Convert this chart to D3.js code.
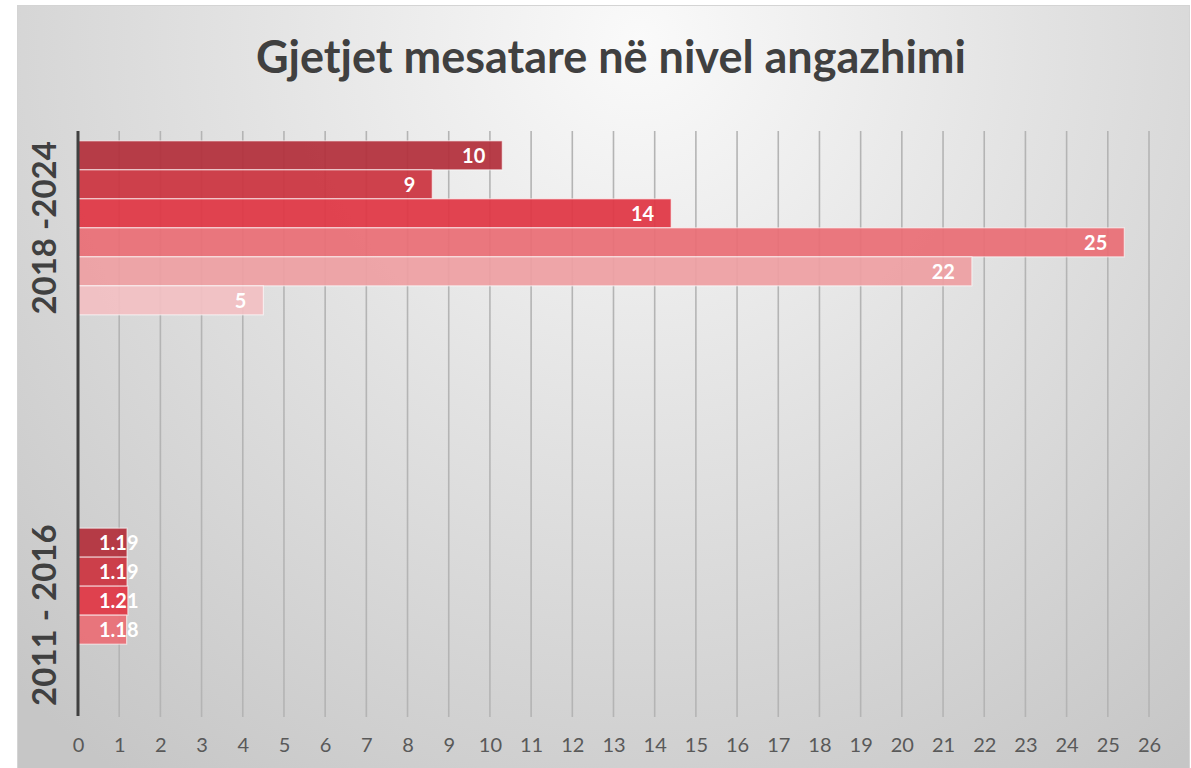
<!DOCTYPE html>
<html><head><meta charset="utf-8">
<script src="https://cdn.jsdelivr.net/npm/d3@7"></script>
<style>html,body{margin:0;padding:0;background:#fff;}svg{display:block;}</style>
</head><body>
<svg id="chart" width="1191" height="768"></svg>
<script>
// ---- data ----
const title = "Gjetjet mesatare në nivel angazhimi";
const categories = ["2018 -2024", "2011 - 2016"];
const seriesNames = ["S1", "S2", "S3", "S4", "S5", "S6"];
const values2018_2024 = [10.3, 8.6, 14.4, 25.4, 21.7, 4.5];
const values2011_2016 = [1.19, 1.19, 1.21, 1.18, null, null];
const labelDecimals = [0, 2];
const xTicks = d3.range(0, 27);
const seriesColors = ["#b32f3b", "#cb3440", "#e03644", "#ea6e75", "#ee9fa3", "#f2c0c3"];

const groupValues = [values2018_2024, values2011_2016];

// ---- layout ----
const W = 1191, H = 768;
const plot = {left: 78, right: 1149, top: 131, bottom: 712};
const svg = d3.select("#chart");
const defs = svg.append("defs");
const grad = defs.append("radialGradient").attr("id", "bg")
  .attr("gradientUnits", "userSpaceOnUse")
  .attr("cx", 640).attr("cy", 40).attr("r", 900)
  .attr("fx", 640).attr("fy", 40);
grad.append("stop").attr("offset", "0").attr("stop-color", "#fafafa");
grad.append("stop").attr("offset", "0.45").attr("stop-color", "#e2e2e2");
grad.append("stop").attr("offset", "1").attr("stop-color", "#c6c6c6");

svg.append("rect").attr("x", 17.5).attr("y", 5.5).attr("width", W - 19).attr("height", H - 5)
  .attr("fill", "url(#bg)").attr("stroke", "#d4d4d4").attr("stroke-width", 1);

const x = d3.scaleLinear().domain([0, 26]).range([plot.left, plot.right]);
const yCat = d3.scalePoint().domain(categories).range([plot.top, plot.bottom]).padding(0.25);
const slot = d3.scaleBand().domain(d3.range(seriesNames.length)).range([-87, 87]);

// gridlines + tick marks
svg.append("g").selectAll("line").data(xTicks.filter(d => d > 0)).join("line")
  .attr("x1", d => x(d)).attr("x2", d => x(d))
  .attr("y1", plot.top).attr("y2", plot.bottom + 5)
  .attr("stroke", "#b4b4b4").attr("stroke-width", 1.6);

// x axis labels
const xAxis = d3.axisBottom(x).tickValues(xTicks).tickSize(0).tickPadding(0).tickFormat(d3.format("d"));
const gx = svg.append("g").attr("transform", `translate(0,${plot.bottom + 26})`).call(xAxis);
gx.select(".domain").remove();
gx.selectAll("text").attr("fill", "#595959").style("font-family", "Lato, 'Open Sans', sans-serif")
  .style("font-size", "20px").attr("dy", "0.71em");

// bars
const barsData = [];
groupValues.forEach((vals, gi) => vals.forEach((v, si) => {
  if (v != null) barsData.push({cat: categories[gi], gi, si, v});
}));
const gBars = svg.append("g");
gBars.selectAll("rect").data(barsData).join("rect")
  .attr("x", x(0))
  .attr("y", d => yCat(d.cat) + slot(d.si))
  .attr("width", d => x(d.v) - x(0))
  .attr("height", slot.bandwidth())
  .attr("fill", d => seriesColors[d.si]).attr("fill-opacity", 0.93)
  .attr("stroke", "#ffffff").attr("stroke-opacity", 0.6).attr("stroke-width", 1.2);

// labels
const labels = gBars.selectAll("text").data(barsData).join("text")
  .attr("y", d => yCat(d.cat) + slot(d.si) + slot.bandwidth() / 2)
  .attr("dy", "0.36em")
  .attr("fill", "#ffffff").attr("font-weight", "bold")
  .style("font-family", "Lato, 'Open Sans', sans-serif").style("font-size", "20px")
  .attr("text-anchor", "start")
  .text(d => d.v.toFixed(labelDecimals[d.gi]));
labels.each(function(d) {
  const w = this.getComputedTextLength();
  let end = x(d.v) - 17;
  if (end - w < x(0) + 21) end = x(0) + 21 + w;
  d3.select(this).attr("x", end - w);
});

// y axis line
svg.append("line").attr("x1", x(0)).attr("x2", x(0))
  .attr("y1", plot.top).attr("y2", plot.bottom + 4)
  .attr("stroke", "#404040").attr("stroke-width", 3);

// category labels
svg.append("g").selectAll("text").data(categories).join("text")
  .attr("transform", d => `translate(56,${yCat(d)}) rotate(-90)`)
  .attr("text-anchor", "middle")
  .attr("fill", "#404040").attr("font-weight", "bold")
  .style("font-family", "Lato, 'Open Sans', sans-serif").style("font-size", "33px")
  .text(d => d);

// title
svg.append("text").attr("x", 611).attr("y", 73)
  .attr("text-anchor", "middle").attr("fill", "#404040").attr("font-weight", "bold")
  .style("font-family", "Lato, 'Open Sans', sans-serif").style("font-size", "45px")
  .text(title);
</script>
</body></html>
